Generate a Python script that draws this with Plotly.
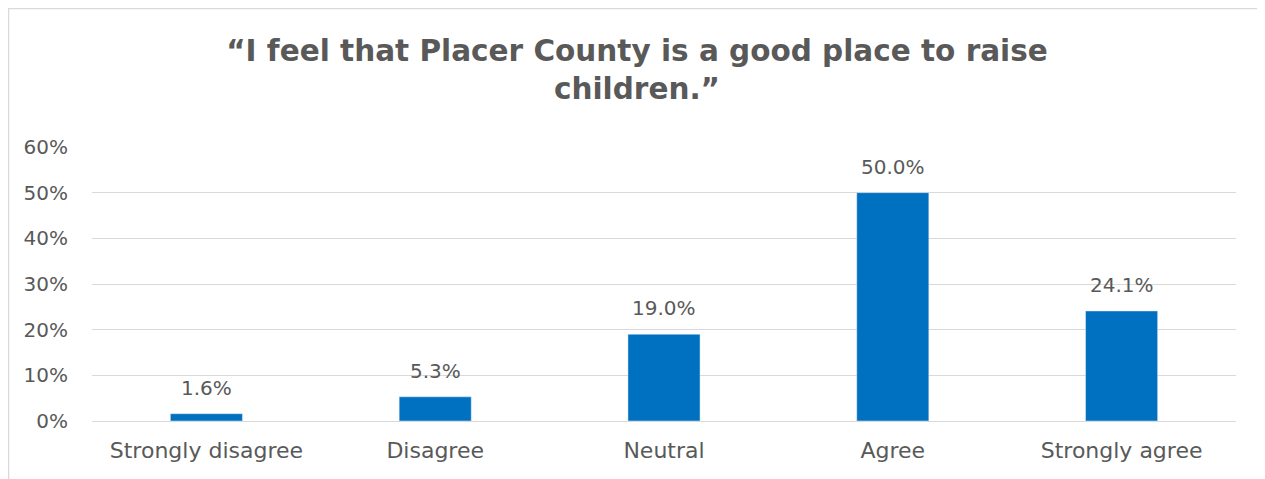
import plotly.graph_objects as go

categories = ["Strongly disagree", "Disagree", "Neutral", "Agree", "Strongly agree"]
values = [1.6, 5.3, 19.0, 50.0, 24.1]
y_ticks = [0, 10, 20, 30, 40, 50, 60]
y_tick_labels = [f"{v}%" for v in y_ticks]

W, H = 1257, 471
L, R, T, B = 84, 29, 139, 58
pw = W - L - R
ph = H - T - B

font_fam = "'DejaVu Sans', sans-serif"
gray = "#595959"

fig = go.Figure(go.Bar(
    x=categories, y=values,
    marker_color="#0070C0",
    width=0.315,
    cliponaxis=False,
))

for c, v in zip(categories, values):
    fig.add_annotation(
        x=c, y=v, text=f"{v:.1f}%", showarrow=False,
        yanchor="bottom", yshift=12,
        font=dict(size=20, color=gray, family=font_fam),
    )

fig.update_layout(
    width=W, height=H,
    margin=dict(l=L, r=R, t=T, b=B),
    paper_bgcolor="white", plot_bgcolor="white",
    showlegend=False,
    title=dict(
        text="<b>“I feel that Placer County is a good place to raise<br>children.”</b>",
        x=629 / W, xanchor="center", xref="container",
        y=1 - 53 / H, yanchor="middle",
        font=dict(size=29.5, color=gray, family=font_fam),
    ),
    xaxis=dict(
        showgrid=False, showline=False, zeroline=False,
        tickfont=dict(size=22, color=gray, family=font_fam),
        ticks="outside", ticklen=10, tickcolor="rgba(0,0,0,0)",
    ),
    yaxis=dict(
        range=[0, 60], tickvals=y_ticks, ticktext=y_tick_labels,
        showgrid=True, gridcolor="#d9d9d9", gridwidth=1,
        zeroline=True, zerolinecolor="#d9d9d9", zerolinewidth=1,
        showline=False,
        tickfont=dict(size=20, color=gray, family=font_fam),
        ticks="outside", ticklen=19, tickcolor="rgba(0,0,0,0)",
    ),
)

fig.add_shape(
    type="rect", xref="paper", yref="paper",
    x0=(0.5 - L) / pw, x1=(W - 1 - L) / pw,
    y0=(H - B - 490) / ph, y1=(H - B - 0.5) / ph,
    line=dict(color="#d9d9d9", width=1.5), fillcolor="rgba(0,0,0,0)", layer="below",
)

fig.write_html("out.html")
